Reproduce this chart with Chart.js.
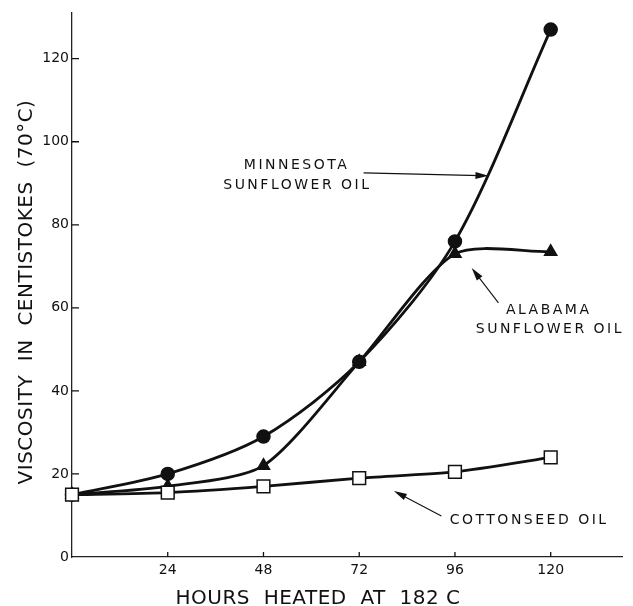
<!DOCTYPE html>
<html>
<head>
<meta charset="utf-8">
<script src="https://cdn.jsdelivr.net/npm/chart.js@4.4.1/dist/chart.umd.min.js"></script>
<style>
  html, body { margin: 0; padding: 0; background: #fff; }
  #wrap { width: 633px; height: 606px; }
</style>
</head>
<body>
<div id="wrap"><canvas id="viscChart" width="633" height="606"></canvas></div>
<script>
// values
const hours = [0, 24, 48, 72, 96, 120]
const minnesota = [15, 20, 29, 47, 76, 127]
const alabama = [15, 17, 22, 47, 73, 73.5]
const cottonseed = [15, 15.5, 17, 19, 20.5, 24]

const xTicks = [24, 48, 72, 96, 120]
const yTicks = [0, 20, 40, 60, 80, 100, 120]

// callout labels, in data units
const labels = [
  { text: 'MINNESOTA', x: 56.3, y: 94.2 },
  { text: 'SUNFLOWER OIL', x: 56.5, y: 89.4 },
  { text: 'ALABAMA', x: 119.5, y: 59.5 },
  { text: 'SUNFLOWER OIL', x: 119.8, y: 54.7 },
  { text: 'COTTONSEED OIL', x: 114.6, y: 8.9 }
]
// arrows: from tail to head, in data units
const arrows = [
  { x1: 73.1, y1: 92.5, x2: 104.4, y2: 91.8 },
  { x1: 106.9, y1: 61.2, x2: 100.2, y2: 69.6 },
  { x1: 92.6, y1: 9.9, x2: 80.7, y2: 15.9 }
]

const font = "'DejaVu Sans', 'Liberation Sans', sans-serif"

function toPoints(ys) {
  return hours.map(function (h, i) { return { x: h, y: ys[i] } })
}

const extras = {
  id: 'extras',
  afterDraw: function (chart) {
    const ctx = chart.ctx
    const xs = chart.scales.x
    const ys = chart.scales.y
    const area = chart.chartArea
    ctx.save()
    ctx.strokeStyle = '#111'
    ctx.fillStyle = '#111'

    // inward tick marks
    ctx.lineWidth = 1.3
    ctx.beginPath()
    yTicks.forEach(function (v) {
      if (v === 0) return
      const py = ys.getPixelForValue(v)
      ctx.moveTo(area.left, py)
      ctx.lineTo(area.left + 7, py)
    })
    xTicks.forEach(function (v) {
      const px = xs.getPixelForValue(v)
      ctx.moveTo(px, area.bottom)
      ctx.lineTo(px, area.bottom - 5)
    })
    ctx.stroke()

    // arrows
    ctx.lineWidth = 1.1
    arrows.forEach(function (a) {
      const x1 = xs.getPixelForValue(a.x1), y1 = ys.getPixelForValue(a.y1)
      const x2 = xs.getPixelForValue(a.x2), y2 = ys.getPixelForValue(a.y2)
      const ang = Math.atan2(y2 - y1, x2 - x1)
      ctx.beginPath()
      ctx.moveTo(x1, y1)
      ctx.lineTo(x2 - Math.cos(ang) * 8, y2 - Math.sin(ang) * 8)
      ctx.stroke()
      ctx.beginPath()
      ctx.moveTo(x2, y2)
      ctx.lineTo(x2 - Math.cos(ang) * 13 + Math.sin(ang) * 3.5, y2 - Math.sin(ang) * 13 - Math.cos(ang) * 3.5)
      ctx.lineTo(x2 - Math.cos(ang) * 13 - Math.sin(ang) * 3.5, y2 - Math.sin(ang) * 13 + Math.cos(ang) * 3.5)
      ctx.closePath()
      ctx.fill()
    })

    // callout text
    ctx.font = '14px ' + font
    ctx.letterSpacing = '2.5px'
    ctx.textAlign = 'center'
    ctx.textBaseline = 'middle'
    labels.forEach(function (l) {
      ctx.fillText(l.text, xs.getPixelForValue(l.x), ys.getPixelForValue(l.y))
    })

    // axis titles
    ctx.font = '20px ' + font
    ctx.letterSpacing = '0.5px'
    ctx.textBaseline = 'alphabetic'
    ctx.fillText('HOURS  HEATED  AT  182 C', 318, 604)
    ctx.translate(32, 292)
    ctx.rotate(-Math.PI / 2)
    ctx.fillText('VISCOSITY  IN  CENTISTOKES  (70°C)', 0, 0)
    ctx.restore()
  }
}

const lineBase = {
  borderColor: '#111',
  borderWidth: 2.8,
  pointBorderColor: '#111',
  pointBorderWidth: 1.5,
  clip: false,
  fill: false
}

new Chart(document.getElementById('viscChart'), {
  type: 'line',
  data: {
    datasets: [
      Object.assign({}, lineBase, {
        label: 'Cottonseed oil',
        data: toPoints(cottonseed),
        tension: 0.2,
        pointStyle: 'rect',
        pointRadius: 9,
        pointBackgroundColor: '#fff'
      }),
      Object.assign({}, lineBase, {
        label: 'Minnesota sunflower oil',
        data: toPoints(minnesota),
        tension: 0.3,
        pointStyle: 'circle',
        pointRadius: 6.5,
        pointBackgroundColor: '#111'
      }),
      Object.assign({}, lineBase, {
        label: 'Alabama sunflower oil',
        data: toPoints(alabama),
        tension: 0.25,
        pointStyle: 'triangle',
        pointRadius: 7,
        pointBackgroundColor: '#111'
      })
    ]
  },
  options: {
    responsive: false,
    animation: false,
    layout: { padding: { left: 0, right: 2, top: 13, bottom: 0 } },
    plugins: {
      legend: { display: false },
      tooltip: { enabled: false }
    },
    scales: {
      x: {
        type: 'linear',
        min: 0,
        max: 138,
        afterBuildTicks: function (scale) {
          scale.ticks = xTicks.map(function (v) { return { value: v } })
        },
        afterFit: function (scale) { scale.height = 49 },
        grid: { display: false, drawTicks: false },
        border: { display: true, color: '#222', width: 1.3 },
        ticks: {
          color: '#111',
          padding: 5,
          maxRotation: 0,
          font: { family: font, size: 14 }
        }
      },
      y: {
        min: 0,
        max: 131,
        afterBuildTicks: function (scale) {
          scale.ticks = yTicks.map(function (v) { return { value: v } })
        },
        afterFit: function (scale) { scale.width = 72 },
        grid: { display: false, drawTicks: false },
        border: { display: true, color: '#222', width: 1.3 },
        ticks: {
          color: '#111',
          padding: 3,
          font: { family: font, size: 14 }
        }
      }
    }
  },
  plugins: [extras]
})
</script>
</body>
</html>
